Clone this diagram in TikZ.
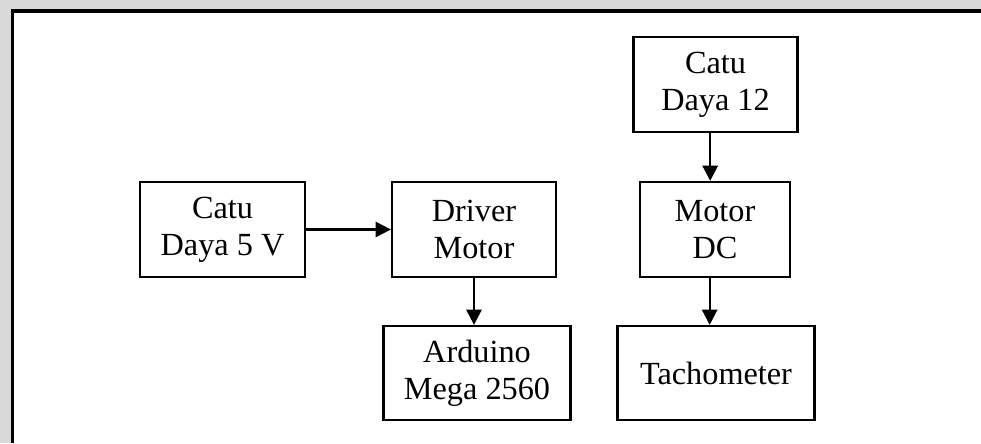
\documentclass[tikz,border=0pt]{standalone}
\usepackage{fontspec}
\setmainfont{Liberation Serif}
\usetikzlibrary{arrows.meta,calc}
\definecolor{bggray}{HTML}{D9D9D9}
\tikzset{
  blk/.style={draw=black, line width=1.7pt, align=center, inner sep=0pt,
    font=\fontsize{24.2}{27.75}\selectfont},
  conn/.style={line width=1.6pt, -{Triangle[length=11.5pt,width=11.5pt]}},
}
\begin{document}
\begin{tikzpicture}[x=0.75pt,y=-0.75pt]
\useasboundingbox (0,0) rectangle (981,443);
\fill[bggray] (0,0) rectangle (981,443);
\fill[white] (12.5,11) rectangle (981,443);
\draw[line width=2.3pt] (12.5,443) -- (12.5,11) -- (981,11);
\node[blk, minimum width=123.75pt, minimum height=71.25pt] (c5) at (222.5,229.5) {Catu\\Daya 5 V};
\node[blk, minimum width=123pt, minimum height=71.25pt] (drv) at (474,229.5) {Driver\\Motor};
\node[blk, minimum width=140.25pt, minimum height=70.5pt] (ard) at (477,373) {Arduino\\Mega 2560};
\node[blk, minimum width=123pt, minimum height=71.25pt] (c12) at (715.5,84.5) {Catu\\Daya 12};
\node[blk, minimum width=112.5pt, minimum height=71.25pt] (mdc) at (715,229.5) {Motor\\DC};
\node[blk, minimum width=147.75pt, minimum height=70.5pt] (tach) at (716,373) {Tachometer};
\draw[conn] (c5.east) -- (drv.west);
\draw[conn] (drv.south) -- (drv.south |- ard.north);
\draw[conn] ([xshift=-4pt]c12.south) -- ([xshift=-4pt]c12.south |- mdc.north);
\draw[conn] ([xshift=-4pt]mdc.south) -- ([xshift=-4pt]mdc.south |- tach.north);
\end{tikzpicture}
\end{document}
